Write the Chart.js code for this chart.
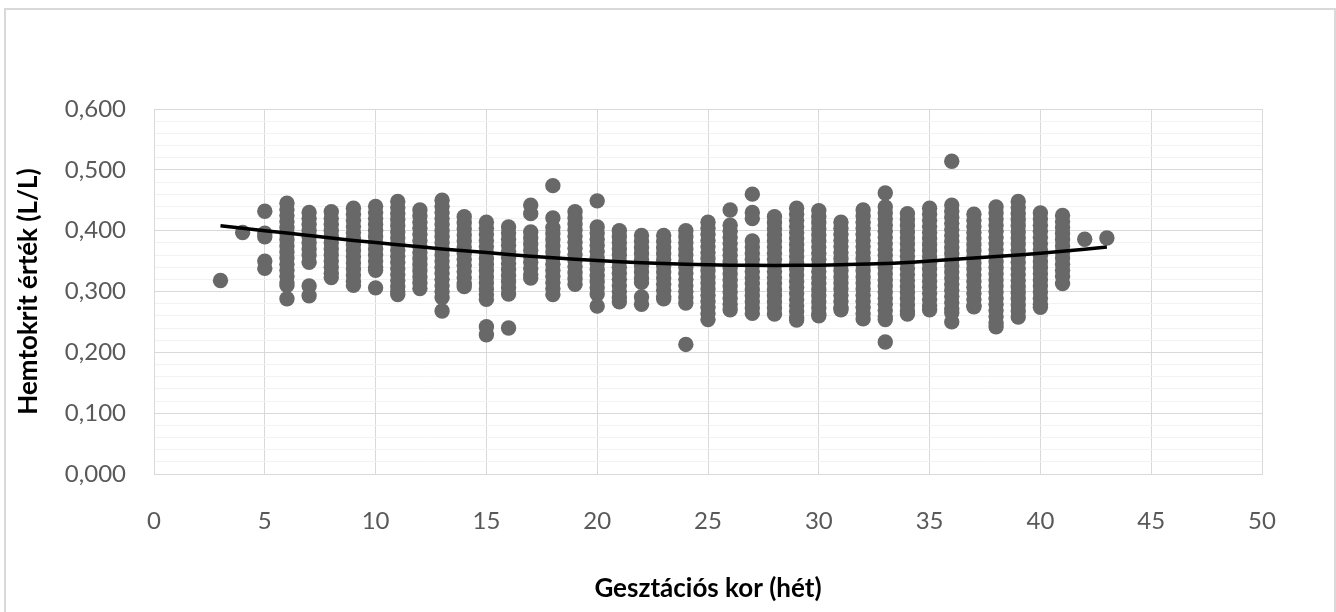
<!DOCTYPE html>
<html>
<head>
<meta charset="utf-8">
<script src="https://cdn.jsdelivr.net/npm/chart.js@4/dist/chart.umd.min.js"></script>
<style>
  html, body { margin: 0; padding: 0; background: #fff; }
  #wrap { position: relative; width: 1336px; height: 612px; overflow: hidden; }
  #frame { position: absolute; left: 4px; top: 8px; width: 1328px; height: 620px;
           border: 2px solid #d9d9d9; pointer-events: none; }
</style>
</head>
<body>
<div id="wrap">
  <canvas id="hctChart" width="1336" height="612"></canvas>
  <div id="frame"></div>
</div>
<script>
// gestational weeks that have measurements
const weeks = [3, 4, 5, 6, 7, 8, 9, 10, 11, 12, 13, 14, 15, 16, 17, 18, 19, 20, 21, 22, 23,
               24, 25, 26, 27, 28, 29, 30, 31, 32, 33, 34, 35, 36, 37, 38, 39, 40, 41, 42, 43];

// hematocrit values (L/L) per week, top to bottom
const hctByWeek = [
  [0.318],
  [0.397],
  [0.432, 0.396, 0.390, 0.350, 0.338],
  [0.445, 0.435, 0.425, 0.415, 0.405, 0.395, 0.385, 0.375, 0.365, 0.355, 0.345, 0.335, 0.325, 0.315, 0.310, 0.288],
  [0.430, 0.420, 0.410, 0.400, 0.390, 0.380, 0.370, 0.360, 0.348, 0.309, 0.293],
  [0.431, 0.420, 0.410, 0.400, 0.390, 0.380, 0.370, 0.360, 0.350, 0.340, 0.330, 0.323],
  [0.437, 0.427, 0.417, 0.407, 0.397, 0.387, 0.377, 0.367, 0.357, 0.347, 0.337, 0.327, 0.317, 0.310],
  [0.440, 0.430, 0.420, 0.410, 0.400, 0.390, 0.380, 0.370, 0.360, 0.350, 0.340, 0.335, 0.306],
  [0.448, 0.438, 0.428, 0.418, 0.408, 0.398, 0.388, 0.378, 0.368, 0.358, 0.348, 0.338, 0.328, 0.318, 0.308, 0.300, 0.295],
  [0.434, 0.424, 0.414, 0.404, 0.394, 0.384, 0.374, 0.364, 0.354, 0.344, 0.334, 0.324, 0.314, 0.305],
  [0.450, 0.440, 0.430, 0.420, 0.410, 0.400, 0.390, 0.380, 0.370, 0.360, 0.350, 0.340, 0.330, 0.320, 0.310, 0.300, 0.290, 0.268],
  [0.423, 0.413, 0.403, 0.393, 0.383, 0.373, 0.363, 0.353, 0.343, 0.333, 0.323, 0.313, 0.308],
  [0.414, 0.404, 0.394, 0.384, 0.374, 0.364, 0.354, 0.344, 0.334, 0.324, 0.314, 0.304, 0.295, 0.287, 0.242, 0.229],
  [0.406, 0.396, 0.386, 0.376, 0.366, 0.356, 0.346, 0.336, 0.326, 0.316, 0.306, 0.296, 0.240],
  [0.442, 0.428, 0.398, 0.388, 0.378, 0.368, 0.358, 0.348, 0.338, 0.328, 0.322],
  [0.474, 0.421, 0.405, 0.395, 0.385, 0.375, 0.365, 0.355, 0.345, 0.335, 0.325, 0.315, 0.305, 0.295],
  [0.431, 0.421, 0.411, 0.401, 0.391, 0.381, 0.371, 0.361, 0.351, 0.341, 0.331, 0.321, 0.312],
  [0.449, 0.406, 0.396, 0.386, 0.376, 0.366, 0.356, 0.346, 0.336, 0.326, 0.316, 0.306, 0.296, 0.276],
  [0.400, 0.390, 0.380, 0.370, 0.360, 0.350, 0.340, 0.330, 0.320, 0.310, 0.300, 0.290, 0.283],
  [0.392, 0.382, 0.372, 0.362, 0.352, 0.342, 0.332, 0.322, 0.315, 0.291, 0.279],
  [0.392, 0.382, 0.372, 0.362, 0.352, 0.342, 0.332, 0.322, 0.312, 0.302, 0.292, 0.288],
  [0.400, 0.390, 0.380, 0.370, 0.360, 0.350, 0.340, 0.330, 0.320, 0.310, 0.300, 0.290, 0.281, 0.213],
  [0.414, 0.404, 0.394, 0.384, 0.374, 0.364, 0.354, 0.344, 0.334, 0.324, 0.314, 0.304, 0.294, 0.284, 0.274, 0.264, 0.254],
  [0.434, 0.409, 0.399, 0.389, 0.379, 0.369, 0.359, 0.349, 0.339, 0.329, 0.319, 0.309, 0.299, 0.289, 0.279, 0.270],
  [0.460, 0.430, 0.420, 0.383, 0.373, 0.363, 0.353, 0.343, 0.333, 0.323, 0.313, 0.303, 0.293, 0.283, 0.273, 0.264],
  [0.423, 0.413, 0.403, 0.393, 0.383, 0.373, 0.363, 0.353, 0.343, 0.333, 0.323, 0.313, 0.303, 0.293, 0.283, 0.273, 0.263],
  [0.437, 0.427, 0.417, 0.407, 0.397, 0.387, 0.377, 0.367, 0.357, 0.347, 0.337, 0.327, 0.317, 0.307, 0.297, 0.287, 0.277, 0.267, 0.257, 0.253],
  [0.433, 0.423, 0.413, 0.403, 0.393, 0.383, 0.373, 0.363, 0.353, 0.343, 0.333, 0.323, 0.313, 0.303, 0.293, 0.283, 0.273, 0.263, 0.260],
  [0.414, 0.404, 0.394, 0.384, 0.374, 0.364, 0.354, 0.344, 0.334, 0.324, 0.314, 0.304, 0.294, 0.284, 0.274, 0.270],
  [0.434, 0.424, 0.414, 0.404, 0.394, 0.384, 0.374, 0.364, 0.354, 0.344, 0.334, 0.324, 0.314, 0.304, 0.294, 0.284, 0.274, 0.264, 0.255],
  [0.462, 0.439, 0.429, 0.419, 0.409, 0.399, 0.389, 0.379, 0.369, 0.359, 0.349, 0.339, 0.329, 0.319, 0.309, 0.299, 0.289, 0.279, 0.269, 0.259, 0.254, 0.217],
  [0.428, 0.418, 0.408, 0.398, 0.388, 0.378, 0.368, 0.358, 0.348, 0.338, 0.328, 0.318, 0.308, 0.298, 0.288, 0.278, 0.268, 0.263],
  [0.437, 0.427, 0.417, 0.407, 0.397, 0.387, 0.377, 0.367, 0.357, 0.347, 0.337, 0.327, 0.317, 0.307, 0.297, 0.287, 0.277, 0.270],
  [0.514, 0.442, 0.432, 0.422, 0.412, 0.402, 0.392, 0.382, 0.372, 0.362, 0.352, 0.342, 0.332, 0.322, 0.312, 0.302, 0.292, 0.282, 0.272, 0.265, 0.250],
  [0.427, 0.417, 0.407, 0.397, 0.387, 0.377, 0.367, 0.357, 0.347, 0.337, 0.327, 0.317, 0.307, 0.297, 0.287, 0.277, 0.275],
  [0.439, 0.429, 0.419, 0.409, 0.399, 0.389, 0.379, 0.369, 0.359, 0.349, 0.339, 0.329, 0.319, 0.309, 0.299, 0.289, 0.279, 0.269, 0.259, 0.249, 0.242],
  [0.448, 0.438, 0.428, 0.418, 0.408, 0.398, 0.388, 0.378, 0.368, 0.358, 0.348, 0.338, 0.328, 0.318, 0.308, 0.298, 0.288, 0.278, 0.268, 0.258],
  [0.429, 0.419, 0.409, 0.399, 0.389, 0.379, 0.369, 0.359, 0.349, 0.339, 0.329, 0.319, 0.309, 0.299, 0.289, 0.279, 0.274],
  [0.425, 0.415, 0.405, 0.395, 0.385, 0.375, 0.365, 0.355, 0.345, 0.335, 0.325, 0.313],
  [0.386],
  [0.388]
];

// polynomial trend line
const trendWeeks = [3, 5, 7, 9, 11, 13, 15, 17, 19, 21, 23, 25, 27, 29, 31, 33, 35, 37, 39, 41, 43];
const trendValues = [0.408, 0.400, 0.392, 0.384, 0.377, 0.370, 0.364, 0.358, 0.353, 0.349, 0.346,
                     0.344, 0.343, 0.343, 0.344, 0.346, 0.350, 0.355, 0.360, 0.366, 0.373];

const scatterPoints = [];
weeks.forEach((w, i) => {
    hctByWeek[i].forEach(v => scatterPoints.push({ x: w, y: v }));
});
const trendPoints = trendWeeks.map((w, i) => ({ x: w, y: trendValues[i] }));

const isMajor = v => Math.round(v * 1000) % 100 === 0;

const ctx = document.getElementById('hctChart').getContext('2d');
new Chart(ctx, {
    type: 'scatter',
    data: {
        datasets: [{
            type: 'line',
            data: trendPoints,
            borderColor: '#000000',
            borderWidth: 3.5,
            pointRadius: 0,
            fill: false,
            tension: 0.4,
            order: 0
        }, {
            data: scatterPoints,
            backgroundColor: '#686868',
            borderWidth: 0,
            pointRadius: 7.7,
            order: 1
        }]
    },
    options: {
        responsive: false,
        animation: false,
        layout: { padding: { left: 8, top: 109, right: 74, bottom: 8 } },
        plugins: {
            legend: { display: false },
            tooltip: { enabled: false }
        },
        scales: {
            x: {
                type: 'linear',
                min: 0,
                max: 50,
                afterFit: (scale) => { scale.height = 130; },
                ticks: {
                    stepSize: 5,
                    padding: 33,
                    color: '#595959',
                    font: { family: 'Lato', size: 24 }
                },
                grid: { color: '#d9d9d9', drawTicks: false },
                border: { color: '#d9d9d9' },
                title: {
                    display: true,
                    text: 'Gesztációs kor (hét)',
                    color: '#000000',
                    padding: { top: 0, bottom: 0 },
                    font: { family: 'Lato', size: 26, weight: 'bold' }
                }
            },
            y: {
                min: 0,
                max: 0.6,
                afterFit: (scale) => { scale.width = 146; },
                ticks: {
                    stepSize: 0.02,
                    autoSkip: false,
                    padding: 28,
                    color: '#595959',
                    font: { family: 'Lato', size: 24 },
                    callback: (v) => isMajor(v) ? v.toFixed(3).replace('.', ',') : ''
                },
                grid: {
                    drawTicks: false,
                    color: (c) => isMajor(c.tick.value) ? '#d9d9d9' : '#f2f2f2'
                },
                border: { color: '#d9d9d9' },
                title: {
                    display: true,
                    text: 'Hemtokrit érték (L/L)',
                    color: '#000000',
                    padding: { top: 5, bottom: 0 },
                    font: { family: 'Lato', size: 26, weight: 'bold' }
                }
            }
        }
    }
});
</script>
</body>
</html>
